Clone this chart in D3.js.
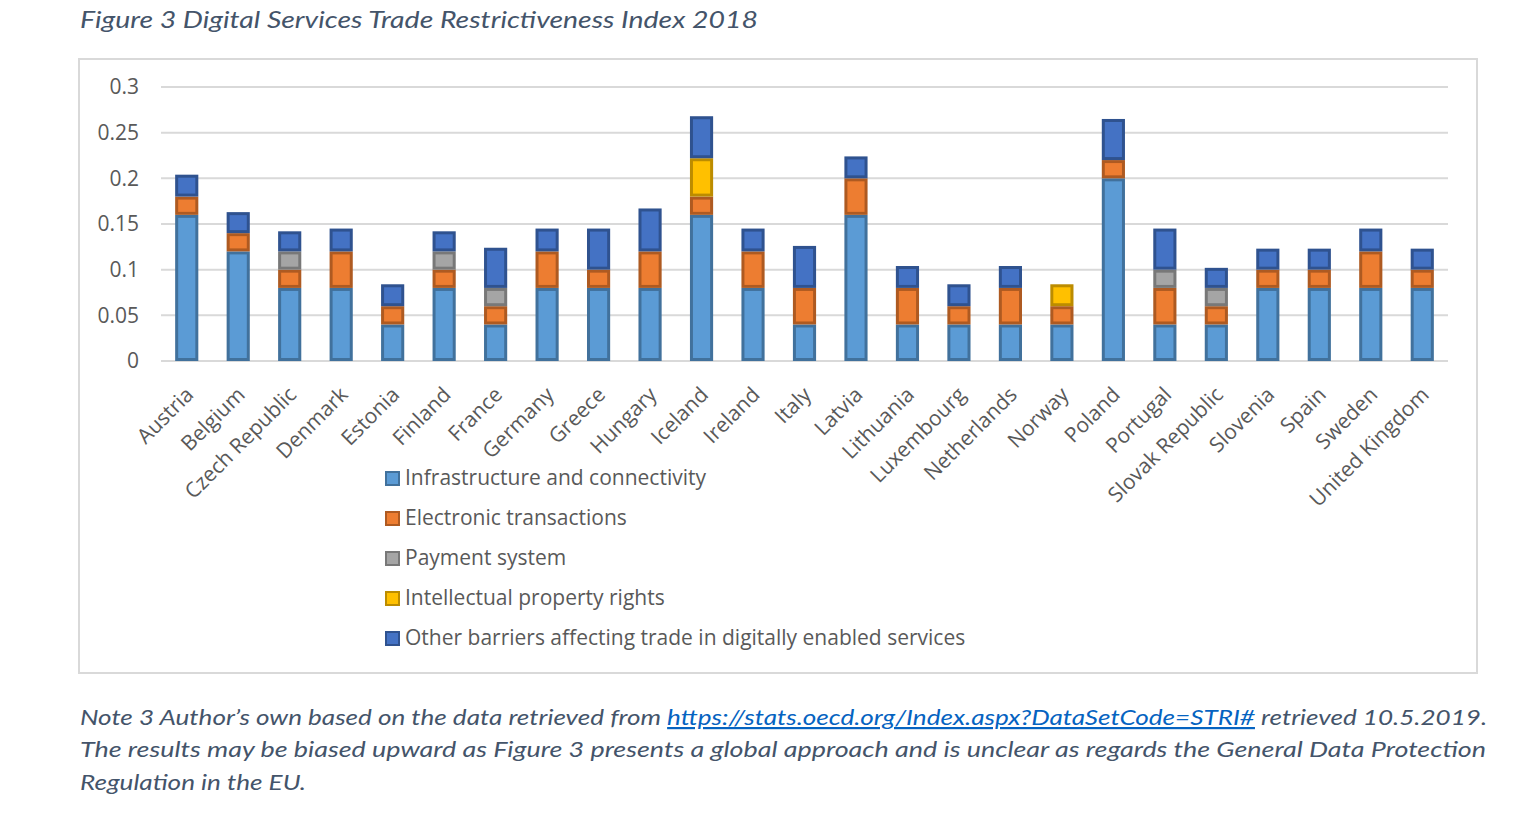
<!DOCTYPE html>
<html><head><meta charset="utf-8">
<script src="https://cdn.jsdelivr.net/npm/d3@7/dist/d3.min.js"></script>
<style>
html,body{margin:0;padding:0;background:#fff;}
svg{display:block;}
</style></head>
<body>
<svg id="chart" width="1518" height="822"></svg>
<script>
const countries = ["Austria","Belgium","Czech Republic","Denmark","Estonia","Finland","France","Germany","Greece","Hungary","Iceland","Ireland","Italy","Latvia","Lithuania","Luxembourg","Netherlands","Norway","Poland","Portugal","Slovak Republic","Slovenia","Spain","Sweden","United Kingdom"];
const infrastructure = [0.16,0.12,0.08,0.08,0.04,0.08,0.04,0.08,0.08,0.08,0.16,0.08,0.04,0.16,0.04,0.04,0.04,0.04,0.20,0.04,0.04,0.08,0.08,0.08,0.08];
const electronic     = [0.02,0.02,0.02,0.04,0.02,0.02,0.02,0.04,0.02,0.04,0.02,0.04,0.04,0.04,0.04,0.02,0.04,0.02,0.02,0.04,0.02,0.02,0.02,0.04,0.02];
const payment        = [0,0,0.02,0,0,0.02,0.02,0,0,0,0,0,0,0,0,0,0,0,0,0.02,0.02,0,0,0,0];
const intellectual   = [0,0,0,0,0,0,0,0,0,0,0.042,0,0,0,0,0,0,0.024,0,0,0,0,0,0,0];
const otherBarriers  = [0.024,0.023,0.022,0.025,0.024,0.022,0.044,0.025,0.045,0.047,0.046,0.025,0.046,0.024,0.024,0.024,0.024,0,0.045,0.045,0.022,0.023,0.023,0.025,0.023];
const seriesNames = ["Infrastructure and connectivity","Electronic transactions","Payment system","Intellectual property rights","Other barriers affecting trade in digitally enabled services"];
const yTicks = [0,0.05,0.1,0.15,0.2,0.25,0.3];
const yTickLabels = ["0","0.05","0.1","0.15","0.2","0.25","0.3"];

const fills   = ["#5b9bd5","#ed7d31","#a5a5a5","#ffc000","#4472c4"];
const strokes = ["#41719c","#ae5a21","#787878","#bc8c00","#2f528f"];
const seriesVals = [infrastructure, electronic, payment, intellectual, otherBarriers];

const svg = d3.select("#chart");
const textCol = "#595959";
const noteCol = "#44546a";
const axisFont = "'Open Sans', sans-serif";

// title
svg.append("text").attr("x",80).attr("y",28)
  .attr("font-family","Lato, sans-serif").attr("font-style","italic")
  .attr("font-size",24).attr("fill",noteCol)
  .attr("textLength",678).attr("lengthAdjust","spacingAndGlyphs")
  .text("Figure 3 Digital Services Trade Restrictiveness Index 2018");

// chart frame
svg.append("rect").attr("x",79).attr("y",59).attr("width",1398).attr("height",614)
  .attr("fill","#fff").attr("stroke","#d9d9d9").attr("stroke-width",2);

const x = d3.scaleBand().domain(countries).range([161,1448]).paddingInner(0.55).paddingOuter(0.275);
const y = d3.scaleLinear().domain([0,0.3]).range([361,87]);

// gridlines
svg.append("g").selectAll("line").data(yTicks).join("line")
  .attr("x1",161).attr("x2",1448)
  .attr("y1",d=>y(d)).attr("y2",d=>y(d))
  .attr("stroke","#d9d9d9").attr("stroke-width",2);

// y axis labels
const yAxis = d3.axisLeft(y).tickValues(yTicks).tickFormat((d,i)=>yTickLabels[i]).tickSize(0).tickPadding(22);
const gy = svg.append("g").attr("transform","translate(161,0)").call(yAxis);
gy.select(".domain").remove();
gy.selectAll("text").attr("font-family",axisFont).attr("font-size",21).attr("fill",textCol);

// stacked data
const rows = countries.map((c,i)=>{
  const o = {country:c};
  seriesNames.forEach((s,j)=>o[s]=seriesVals[j][i]);
  return o;
});
const stack = d3.stack().keys(seriesNames)(rows);

const gBars = svg.append("g");
stack.forEach((layer,j)=>{
  gBars.append("g").selectAll("rect").data(layer.filter(d=>d[1]-d[0]>0)).join("rect")
    .attr("x",d=>x(d.data.country)+1.5)
    .attr("width",x.bandwidth()-3)
    .attr("y",d=>y(d[1])+1.5)
    .attr("height",d=>Math.max(0,y(d[0])-y(d[1])-3))
    .attr("fill",fills[j]).attr("stroke",strokes[j]).attr("stroke-width",3);
});

// x labels
const xAxis = d3.axisBottom(x).tickSize(0).tickPadding(0);
const gx = svg.append("g").attr("transform","translate(0,361)").call(xAxis);
gx.select(".domain").remove();
gx.selectAll("text")
  .attr("font-family",axisFont).attr("font-size",21).attr("fill",textCol)
  .attr("text-anchor","end")
  .attr("dy",null).attr("y",null)
  .attr("transform","translate(4,31) rotate(-45)")
  .attr("dominant-baseline","middle");

// legend
const lg = svg.append("g");
seriesNames.forEach((s,j)=>{
  const cy = 479 + j*40;
  lg.append("rect").attr("x",386).attr("y",cy-7).attr("width",13).attr("height",13)
    .attr("fill",fills[j]).attr("stroke",strokes[j]).attr("stroke-width",2);
  lg.append("text").attr("x",405).attr("y",cy).attr("dominant-baseline","middle")
    .attr("font-family",axisFont).attr("font-size",21).attr("fill",textCol).text(s);
});

// note
const note = svg.append("g").attr("font-family","Lato, sans-serif").attr("font-style","italic")
  .attr("font-size",22).attr("fill",noteCol);
const l1 = note.append("text").attr("x",80).attr("y",725);
l1.append("tspan").text("Note 3 Author\u2019s own based on the data retrieved from ");
l1.append("tspan").attr("fill","#0563c1").attr("text-decoration","underline").text("https://stats.oecd.org/Index.aspx?DataSetCode=STRI#");
l1.append("tspan").text(" retrieved 10.5.2019.");
l1.attr("textLength",1407).attr("lengthAdjust","spacingAndGlyphs");
note.append("text").attr("x",80).attr("y",757).attr("textLength",1406).attr("lengthAdjust","spacingAndGlyphs")
  .text("The results may be biased upward as Figure 3 presents a global approach and is unclear as regards the General Data Protection");
note.append("text").attr("x",80).attr("y",790).attr("textLength",226).attr("lengthAdjust","spacingAndGlyphs")
  .text("Regulation in the EU.");
</script>
</body></html>
